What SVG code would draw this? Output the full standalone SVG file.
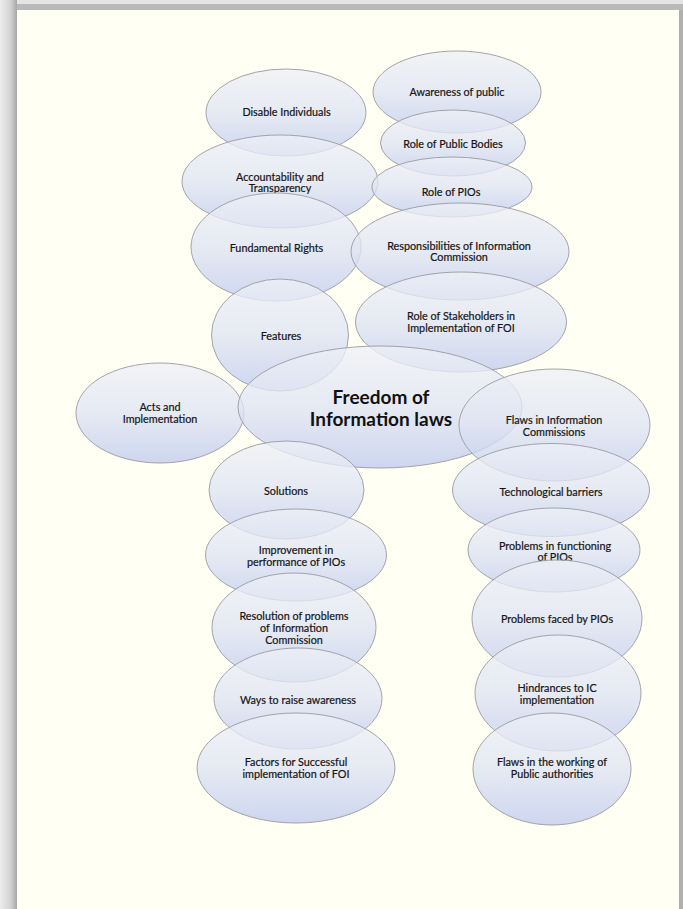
<svg xmlns="http://www.w3.org/2000/svg" width="683" height="909" viewBox="0 0 683 909">
<defs>
<linearGradient id="g" x1="0" y1="0" x2="0" y2="1">
<stop offset="0" stop-color="#eef0f6"/>
<stop offset="0.5" stop-color="#dfe4f3"/>
<stop offset="1" stop-color="#bfcbee"/>
</linearGradient>
<linearGradient id="lshade" x1="0" y1="0" x2="1" y2="0">
<stop offset="0" stop-color="#ececec"/>
<stop offset="0.6" stop-color="#d4d4d4"/>
<stop offset="1" stop-color="#a8a8a8"/>
</linearGradient>
<style>
.n ellipse{fill:url(#g);fill-opacity:0.78;stroke:#9a9aa2;stroke-width:0.9}
.n text{font-family:Lato,"Liberation Sans",sans-serif;font-size:10.8px;fill:#111;stroke:#222;stroke-width:0.2;text-anchor:middle}
.c text{font-family:Lato,"Liberation Sans",sans-serif;font-size:19px;font-weight:bold;fill:#111;stroke:none;text-anchor:middle}
</style>
</defs>
<rect x="0" y="0" width="683" height="909" fill="#e4e4e4"/>
<rect x="0" y="4" width="683" height="6" fill="#b9b9b9"/>
<rect x="0" y="0" width="17" height="909" fill="url(#lshade)"/>
<rect x="679" y="10" width="4" height="899" fill="#b0b0b0"/>
<rect x="17" y="10" width="662" height="899" fill="#fffff3"/>
<g id="connectors"/>
<g id="n-awareness" class="n"><ellipse cx="457" cy="92" rx="84" ry="41"/><text x="457" y="95.5">Awareness of public</text></g>
<g id="n-disable" class="n"><ellipse cx="286" cy="112.5" rx="80" ry="43.5"/><text x="286.5" y="116">Disable Individuals</text></g>
<g id="n-publicbodies" class="n"><ellipse cx="453" cy="143" rx="72.5" ry="33"/><text x="453" y="147.5">Role of Public Bodies</text></g>
<g id="n-accountability" class="n"><ellipse cx="280" cy="181.5" rx="98" ry="46.5"/><text x="280" y="180.5">Accountability and</text><text x="280" y="192">Transparency</text></g>
<g id="n-pios" class="n"><ellipse cx="452" cy="187" rx="80" ry="30"/><text x="451" y="196">Role of PIOs</text></g>
<g id="n-fundamental" class="n"><ellipse cx="276" cy="247" rx="85" ry="54"/><text x="276.5" y="251.5">Fundamental Rights</text></g>
<g id="n-responsibilities" class="n"><ellipse cx="460" cy="251.5" rx="109" ry="48.5"/><text x="459" y="249.5">Responsibilities of Information</text><text x="459" y="261">Commission</text></g>
<g id="n-features" class="n"><ellipse cx="280" cy="335" rx="68.5" ry="56"/><text x="281" y="340">Features</text></g>
<g id="n-stakeholders" class="n"><ellipse cx="461" cy="322" rx="105.5" ry="50"/><text x="461" y="320">Role of Stakeholders in</text><text x="461" y="331.5">Implementation of FOI</text></g>
<g id="n-acts" class="n"><ellipse cx="160" cy="413" rx="84" ry="50"/><text x="160" y="411">Acts and</text><text x="160" y="423">Implementation</text></g>
<g id="n-center" class="n c"><ellipse cx="380" cy="407" rx="142" ry="61"/><text x="381" y="403.5">Freedom of</text><text x="381" y="425.5">Information laws</text></g>
<g id="n-flawsic" class="n"><ellipse cx="554.5" cy="425" rx="95.5" ry="56"/><text x="554" y="424">Flaws in Information</text><text x="554" y="436">Commissions</text></g>
<g id="n-solutions" class="n"><ellipse cx="286.5" cy="490" rx="77.5" ry="49"/><text x="286" y="494.5">Solutions</text></g>
<g id="n-tech" class="n"><ellipse cx="551" cy="490" rx="98.5" ry="46.5"/><text x="551" y="496">Technological barriers</text></g>
<g id="n-improvement" class="n"><ellipse cx="296" cy="555" rx="90.5" ry="46"/><text x="296" y="554">Improvement in</text><text x="296" y="565.5">performance of PIOs</text></g>
<g id="n-functioning" class="n"><ellipse cx="554" cy="550" rx="86" ry="42"/><text x="555" y="549.5">Problems in functioning</text><text x="555" y="561">of PIOs</text></g>
<g id="n-faced" class="n"><ellipse cx="557" cy="618.5" rx="85" ry="58.5"/><text x="557" y="622.5">Problems faced by PIOs</text></g>
<g id="n-resolution" class="n"><ellipse cx="294" cy="627.5" rx="82" ry="54.5"/><text x="294" y="620">Resolution of problems</text><text x="294" y="632">of Information</text><text x="294" y="644">Commission</text></g>
<g id="n-hindrances" class="n"><ellipse cx="558" cy="693" rx="83" ry="58"/><text x="557" y="691.5">Hindrances to IC</text><text x="557" y="703.5">implementation</text></g>
<g id="n-ways" class="n"><ellipse cx="298" cy="698.5" rx="84" ry="50.5"/><text x="298" y="703.5">Ways to raise awareness</text></g>
<g id="n-factors" class="n"><ellipse cx="296" cy="768" rx="99" ry="55"/><text x="296" y="766">Factors for Successful</text><text x="296" y="777.5">implementation of FOI</text></g>
<g id="n-flawspa" class="n"><ellipse cx="552" cy="769" rx="79" ry="56"/><text x="552" y="766">Flaws in the working of</text><text x="552" y="778">Public authorities</text></g>
</svg>
